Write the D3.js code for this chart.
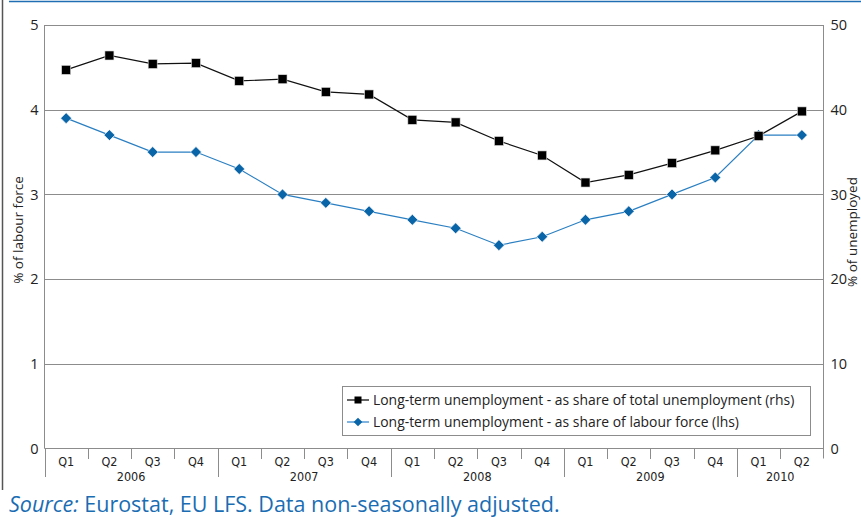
<!DOCTYPE html>
<html>
<head>
<meta charset="utf-8">
<script src="https://cdn.jsdelivr.net/npm/d3@7/dist/d3.min.js"></script>
<style>
  html, body { margin: 0; padding: 0; background: #ffffff; }
  svg { display: block; }
</style>
</head>
<body>
<svg id="chart" width="861" height="520"></svg>
<script>
// ---- data ----
const quarters = ["Q1","Q2","Q3","Q4","Q1","Q2","Q3","Q4","Q1","Q2","Q3","Q4","Q1","Q2","Q3","Q4","Q1","Q2"];
const years = ["2006","2006","2006","2006","2007","2007","2007","2007","2008","2008","2008","2008","2009","2009","2009","2009","2010","2010"];
const shareOfUnemployment = [44.7, 46.4, 45.4, 45.5, 43.4, 43.6, 42.1, 41.8, 38.8, 38.5, 36.3, 34.6, 31.4, 32.3, 33.7, 35.2, 36.9, 39.8];
const shareOfLabourForce = [3.9, 3.7, 3.5, 3.5, 3.3, 3.0, 2.9, 2.8, 2.7, 2.6, 2.4, 2.5, 2.7, 2.8, 3.0, 3.2, 3.7, 3.7];
const leftTicks = [0, 1, 2, 3, 4, 5];
const rightTicks = [0, 10, 20, 30, 40, 50];
const seriesNames = [
  "Long-term unemployment - as share of total unemployment (rhs)",
  "Long-term unemployment - as share of labour force (lhs)"
];
const leftTitle = "% of labour force";
const rightTitle = "% of unemployed";
const sourceItalic = "Source:";
const sourceRest = " Eurostat, EU LFS. Data non-seasonally adjusted.";

// ---- layout ----
const svg = d3.select("#chart");
const L = 44.5, R = 823.5, T = 25, B = 448.5;
const keys = quarters.map((q, i) => i);
const x = d3.scaleBand().domain(keys).range([L, R]).padding(0);
const yL = d3.scaleLinear().domain([0, 5]).range([B, T]);
const yR = d3.scaleLinear().domain([0, 50]).range([B, T]);
const gridCol = "#8c8c8c";
const mainFont = "'Open Sans', 'Noto Sans', sans-serif";
const condFont = "'Liberation Sans Narrow', 'DejaVu Sans Condensed', sans-serif";
const blue = "#0a64a8";

// page decorations
svg.append("line").attr("x1", 9).attr("x2", 861).attr("y1", 1.5).attr("y2", 1.5)
  .attr("stroke", "#1f6db3").attr("stroke-width", 1.5);
svg.append("line").attr("x1", 2.5).attr("x2", 2.5).attr("y1", 0).attr("y2", 490)
  .attr("stroke", "#555").attr("stroke-width", 1.5);

// gridlines (lhs)
svg.append("g").selectAll("line").data(leftTicks.filter(d => d > 0)).join("line")
  .attr("x1", L).attr("x2", R)
  .attr("y1", d => Math.round(yL(d)) + 0.5).attr("y2", d => Math.round(yL(d)) + 0.5)
  .attr("stroke", gridCol).attr("stroke-width", 1);

// frame: left, right, bottom
svg.append("line").attr("x1", L).attr("x2", L).attr("y1", T).attr("y2", B).attr("stroke", gridCol);
svg.append("line").attr("x1", R).attr("x2", R).attr("y1", T).attr("y2", B + 10).attr("stroke", gridCol);
svg.append("line").attr("x1", L).attr("x2", R).attr("y1", B).attr("y2", B).attr("stroke", gridCol);

// left axis labels
const axL = d3.axisLeft(yL).tickValues(leftTicks).tickSize(0).tickPadding(6).tickFormat(d3.format("d"));
const gL = svg.append("g").attr("transform", `translate(${L},0)`).call(axL);
gL.select(".domain").remove();
gL.selectAll("text").attr("font-family", mainFont).attr("font-size", 14.5).attr("fill", "#222");

const axR = d3.axisRight(yR).tickValues(rightTicks).tickSize(0).tickPadding(7).tickFormat(d3.format("d"));
const gR = svg.append("g").attr("transform", `translate(${R},0)`).call(axR);
gR.select(".domain").remove();
gR.selectAll("text").attr("font-family", mainFont).attr("font-size", 14.5).attr("fill", "#222");

// axis titles
svg.append("text").attr("transform", `translate(23,230) rotate(-90)`)
  .attr("text-anchor", "middle").attr("font-family", mainFont).attr("font-size", 13.5).attr("fill", "#222")
  .text(leftTitle);
svg.append("text").attr("transform", `translate(857,232) rotate(-90)`)
  .attr("text-anchor", "middle").attr("font-family", mainFont).attr("font-size", 13.5).attr("fill", "#222")
  .text(rightTitle);

// x axis: quarter ticks and labels
const gx = svg.append("g");
keys.forEach(i => {
  const x0 = x(i);
  const yearStart = i === 0 || years[i] !== years[i - 1];
  gx.append("line").attr("x1", Math.round(x0) + 0.5).attr("x2", Math.round(x0) + 0.5)
    .attr("y1", B).attr("y2", yearStart ? 477 : 459).attr("stroke", gridCol);
});
gx.selectAll("text.q").data(keys).join("text").attr("class", "q")
  .attr("x", i => x(i) + x.bandwidth() / 2).attr("y", 466)
  .attr("text-anchor", "middle").attr("font-family", condFont).attr("font-size", 12.5).attr("fill", "#222")
  .text(i => quarters[i]);
const uniqYears = Array.from(new Set(years));
gx.selectAll("text.y").data(uniqYears).join("text").attr("class", "y")
  .attr("x", yr => {
    const idx = keys.filter(i => years[i] === yr);
    return (x(idx[0]) + x(idx[idx.length - 1]) + x.bandwidth()) / 2;
  })
  .attr("y", 481)
  .attr("text-anchor", "middle").attr("font-family", condFont).attr("font-size", 12.5).attr("fill", "#222")
  .text(yr => yr);

// lines
const cx = i => x(i) + x.bandwidth() / 2;
const lineR = d3.line().x((d, i) => cx(i)).y(d => yR(d));
const lineL = d3.line().x((d, i) => cx(i)).y(d => yL(d));

svg.append("path").datum(shareOfLabourForce).attr("d", lineL)
  .attr("fill", "none").attr("stroke", "#2a7fc2").attr("stroke-width", 1.2);
svg.append("path").datum(shareOfUnemployment).attr("d", lineR)
  .attr("fill", "none").attr("stroke", "#111").attr("stroke-width", 1.2);

svg.append("g").selectAll("path").data(shareOfLabourForce).join("path")
  .attr("transform", (d, i) => `translate(${cx(i)},${yL(d)}) rotate(45)`)
  .attr("d", d3.symbol().type(d3.symbolSquare).size(60))
  .attr("fill", blue).attr("stroke", "#ffffff").attr("stroke-width", 0.6);

svg.append("g").selectAll("rect").data(shareOfUnemployment).join("rect")
  .attr("x", (d, i) => cx(i) - 4.5).attr("y", d => yR(d) - 4.5)
  .attr("width", 9).attr("height", 9)
  .attr("fill", "#000").attr("stroke", "#ddd").attr("stroke-width", 0.6);

// legend
const lg = svg.append("g");
lg.append("rect").attr("x", 342.5).attr("y", 386.5).attr("width", 468).attr("height", 49)
  .attr("fill", "#fff").attr("stroke", "#8c8c8c");
const rows = [
  { y: 400, color: "#111", sym: "sq" },
  { y: 422, color: "#3a8cd0", sym: "dm" }
];
rows.forEach((r, k) => {
  lg.append("line").attr("x1", 347).attr("x2", 369).attr("y1", r.y).attr("y2", r.y)
    .attr("stroke", r.color).attr("stroke-width", 1.3);
  if (r.sym === "sq") {
    lg.append("rect").attr("x", 354.5).attr("y", r.y - 3.5).attr("width", 7).attr("height", 7).attr("fill", "#000");
  } else {
    lg.append("path").attr("transform", `translate(358,${r.y}) rotate(45)`)
      .attr("d", d3.symbol().type(d3.symbolSquare).size(38)).attr("fill", blue);
  }
  lg.append("text").attr("x", 373).attr("y", r.y + 4.8)
    .attr("font-family", mainFont).attr("font-size", 13.9).attr("fill", "#222")
    .text(seriesNames[k]);
});

// source
const src = svg.append("text").attr("x", 9).attr("y", 512)
  .attr("font-family", mainFont).attr("font-size", 21.5).attr("fill", "#1a6db3");
src.append("tspan").attr("font-style", "italic").text(sourceItalic);
src.append("tspan").text(sourceRest);
</script>
</body>
</html>
